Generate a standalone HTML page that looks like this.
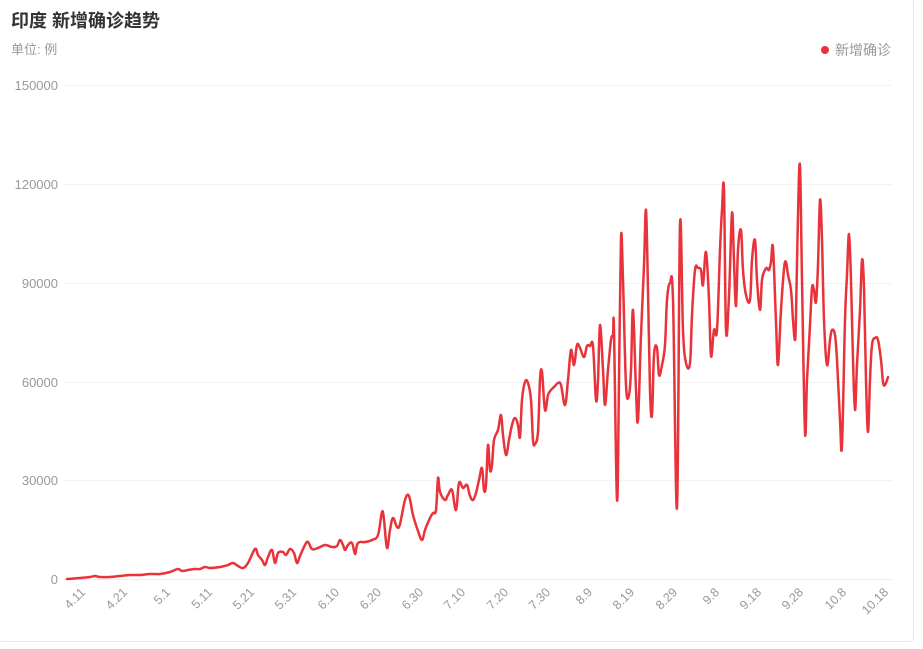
<!DOCTYPE html>
<html><head><meta charset="utf-8"><style>
body{margin:0;background:#fff;width:923px;height:649px;overflow:hidden;font-family:"Liberation Sans","Noto Sans CJK SC",sans-serif;}
.card{position:absolute;left:-2px;top:-2px;width:914px;height:642px;border:1px solid #e8e8e8;border-radius:4px;}
</style></head><body>
<div class="card"></div>
<svg width="923" height="649" style="position:absolute;left:0;top:0" font-family="Liberation Sans, Noto Sans CJK SC, sans-serif">
<text x="11" y="27" font-size="18" font-weight="bold" fill="#333">印度 新增确诊趋势</text>
<text x="11" y="54" font-size="13" fill="#999">单位: 例</text>
<circle cx="825" cy="50" r="4" fill="#e8333a"/>
<text x="835" y="55" font-size="14" fill="#999">新增确诊</text>
<g stroke="#f3f3f3" stroke-width="1">
<line x1="64" x2="892" y1="85.5" y2="85.5"/><line x1="64" x2="892" y1="184.5" y2="184.5"/><line x1="64" x2="892" y1="283.5" y2="283.5"/><line x1="64" x2="892" y1="382.5" y2="382.5"/><line x1="64" x2="892" y1="480.5" y2="480.5"/>
</g>
<line x1="64" x2="892" y1="579.5" y2="579.5" stroke="#eeeeee"/>
<g font-size="13" fill="#999" text-anchor="end">
<text x="58" y="90">150000</text><text x="58" y="189">120000</text><text x="58" y="288">90000</text><text x="58" y="387">60000</text><text x="58" y="485">30000</text><text x="58" y="584">0</text>
</g>
<g font-size="12.5" fill="#999" text-anchor="end">
<text transform="translate(86,593) rotate(-45)">4.11</text>
<text transform="translate(128,593) rotate(-45)">4.21</text>
<text transform="translate(171,593) rotate(-45)">5.1</text>
<text transform="translate(213,593) rotate(-45)">5.11</text>
<text transform="translate(255,593) rotate(-45)">5.21</text>
<text transform="translate(297,593) rotate(-45)">5.31</text>
<text transform="translate(340,593) rotate(-45)">6.10</text>
<text transform="translate(382,593) rotate(-45)">6.20</text>
<text transform="translate(424,593) rotate(-45)">6.30</text>
<text transform="translate(466,593) rotate(-45)">7.10</text>
<text transform="translate(509,593) rotate(-45)">7.20</text>
<text transform="translate(551,593) rotate(-45)">7.30</text>
<text transform="translate(593,593) rotate(-45)">8.9</text>
<text transform="translate(635,593) rotate(-45)">8.19</text>
<text transform="translate(678,593) rotate(-45)">8.29</text>
<text transform="translate(720,593) rotate(-45)">9.8</text>
<text transform="translate(762,593) rotate(-45)">9.18</text>
<text transform="translate(804,593) rotate(-45)">9.28</text>
<text transform="translate(847,593) rotate(-45)">10.8</text>
<text transform="translate(889,593) rotate(-45)">10.18</text>
</g>
<polyline id="pl" fill="none" stroke="#e8333a" stroke-width="2.5" stroke-linejoin="round" stroke-linecap="round" points="67,579 80,578 90,577 95,576 100,577 110,577 120,576 130,575 140,575 150,574 160,574 170,572 178,569 182,571 188,570 195,569 200,569 205,567 210,568 220,567 228,565 233,563 238,566 243,568 248,563 255,549 258,555 262,560 265,565 268,557 272,550 275,563 278,553 283,552 286,555 290,549 294,553 297,563 300,556 305,545 308,542 312,549 318,548 325,545 332,547 337,546 340,540 343,545 345,550 348,545 352,543 355,554 357,545 360,542 365,542 372,540 378,535 382,512 384,520 387,548 390,530 393,518 397,527 400,524 405,500 409,496 413,515 418,531 422,540 425,530 430,518 433,513 436,510 438,478 440,492 445,500 448,495 452,490 456,510 459,483 463,488 467,485 470,496 473,500 476,493 479,480 482,468 484,490 486,485 488,445 490,470 492,465 494,440 498,430 501,415 503,435 506,455 509,440 512,425 515,418 518,425 520,437 522,400 525,382 528,383 531,400 533,440 535,444 538,432 540,380 542,372 545,410 548,395 551,390 555,386 558,383 561,385 565,405 568,380 571,350 574,365 577,345 580,348 584,357 587,346 590,346 593,346 596,400 598,380 600,325 603,370 605,405 608,370 611,340 613,335 614,330 617,500 619,380 621,238 623,280 626,385 629,395 631,370 633,310 636,390 638,420 641,335 644,265 646,210 648,290 650,390 652,415 654,355 657,348 659,375 662,365 665,345 667,300 670,283 673,300 677,508 680,225 683,330 686,363 690,363 692,315 695,270 698,268 701,270 703,285 706,252 709,300 711,356 714,330 717,330 720,250 722,210 724,190 726,330 729,296 732,213 734,262 736,306 738,250 741,230 743,270 746,295 750,300 752,260 755,240 757,280 760,310 762,280 765,270 767,268 769,270 771,262 773,248 776,322 778,365 781,310 784,269 786,262 788,275 791,290 793,320 795,340 796,315 798,215 800,166 802,280 805,432 807,380 810,325 812,288 814,290 816,302 818,265 820,200 822,240 824,320 827,365 830,340 832,330 835,335 837,360 840,420 842,445 845,320 847,275 849,234 851,280 853,360 855,410 857,365 860,310 862,260 864,288 866,380 868,432 870,380 872,345 875,338 878,340 881,360 883,382 885,385 888,377"/>
<path id="sm" fill="none" stroke="#e8333a" stroke-width="2.5" stroke-linejoin="round" stroke-linecap="round"/>
</svg>
<script>
(function(){
var pl=document.getElementById('pl');
var p=pl.getAttribute('points').trim().split(/\s+/).map(function(s){var a=s.split(',');return [+a[0],+a[1]];});
var d='M'+p[0][0]+','+p[0][1];
for(var i=0;i<p.length-1;i++){
var p0=p[i-1]||p[i],p1=p[i],p2=p[i+1],p3=p[i+2]||p2;
var t=0.18;
var c1=[p1[0]+(p2[0]-p0[0])*t,p1[1]+(p2[1]-p0[1])*t];
var c2=[p2[0]-(p3[0]-p1[0])*t,p2[1]-(p3[1]-p1[1])*t];
d+=' C'+c1[0].toFixed(1)+','+c1[1].toFixed(1)+' '+c2[0].toFixed(1)+','+c2[1].toFixed(1)+' '+p2[0]+','+p2[1];
}
document.getElementById('sm').setAttribute('d',d);
pl.style.display='none';
})();
</script>
</body></html>
